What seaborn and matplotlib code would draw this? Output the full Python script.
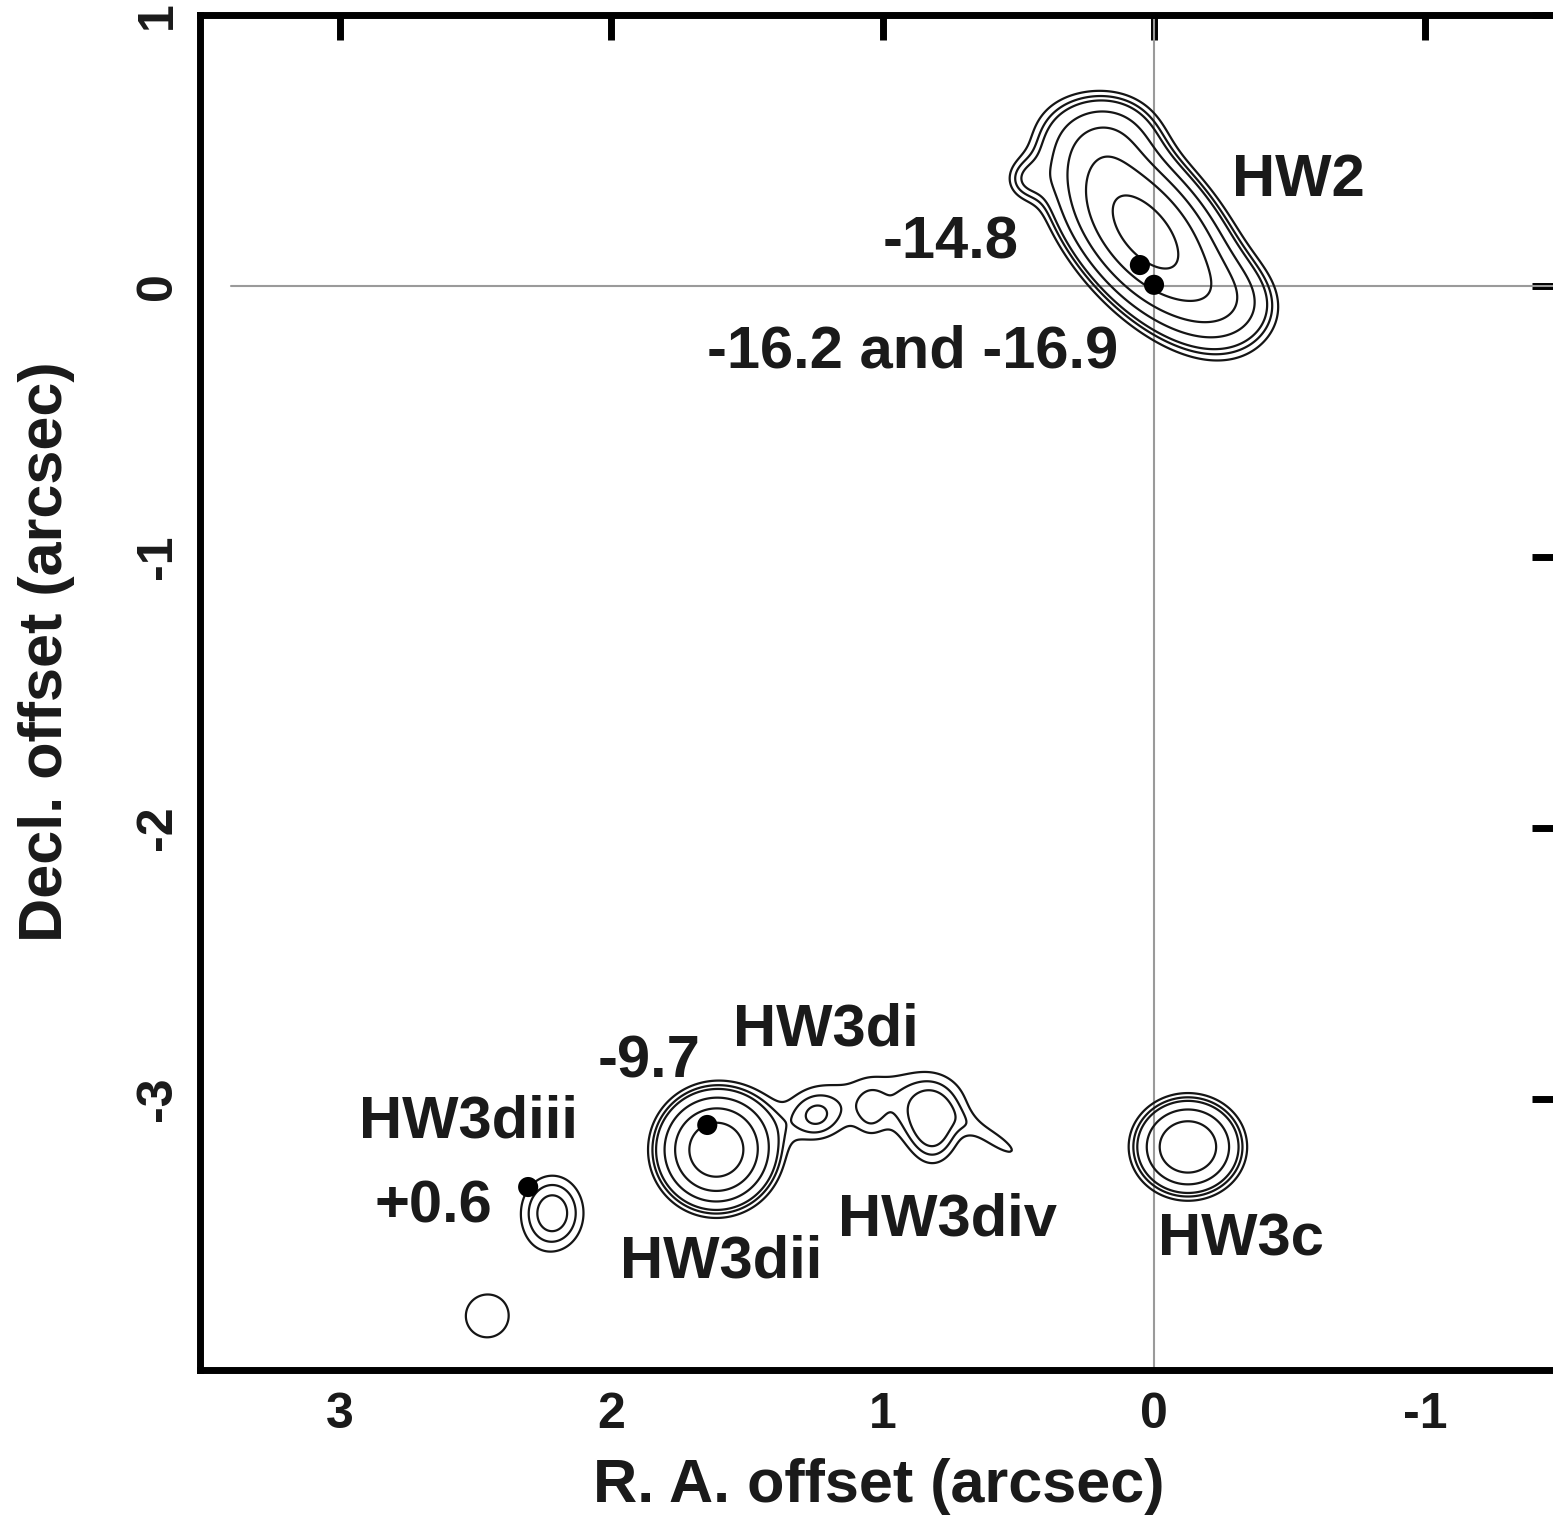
import numpy as np
import pandas as pd
import seaborn as sns
import matplotlib.pyplot as plt

sns.set_theme(style="white")
plt.rcParams['font.family'] = ['Liberation Sans', 'DejaVu Sans']
plt.rcParams['font.weight'] = 'bold'
plt.rcParams['axes.unicode_minus'] = False

# contour levels (arbitrary flux units)
contour_levels = [3, 4, 5, 8, 13, 21, 34]

# emission components (arcsec offsets, RA grows to the left)
comp_name = ['HW2 main', 'HW2 NW', 'HW2 W', 'HW2 SE',
             'HW3dii', 'bridge base', 'neck', 'HW3di oval',
             'HW3div', 'HW3div tail', 'HW3c', 'HW3diii', 'faint knot']
comp_x = [0.033, 0.16, 0.475, -0.28,
          1.613, 0.98, 1.25, 1.045,
          0.815, 0.56, -0.125, 2.217, 2.457]
comp_y = [0.199, 0.56, 0.391, -0.052,
          -3.188, -3.0, -3.07, -3.06,
          -3.115, -3.17, -3.177, -3.421, -3.801]
comp_amp = [42, 7, 3.5, 6,
            30, 3.6, 3.3, 1.4,
            4.5, 2.9, 20, 5.8, 3.6]
comp_sig_a = [0.24, 0.12, 0.06, 0.12,
              0.117, 0.28, 0.07, 0.04,
              0.075, 0.12, 0.112, 0.10, 0.13]
comp_sig_b = [0.125, 0.10, 0.06, 0.10,
              0.117, 0.12, 0.07, 0.07,
              0.115, 0.035, 0.102, 0.12, 0.13]
comp_pa = [50, 0, 0, 20,
           0, 0, 0, 0,
           0, 33, 0, 0, 0]

# maser spots
spot_x = [0.052, 0.0, 1.646, 2.306]
spot_y = [0.077, 0.004, -3.096, -3.325]

# labels
lab_text = ['HW2', '-14.8', '-16.2 and -16.9', 'HW3di', '-9.7', 'HW3diii',
            '+0.6', 'HW3dii', 'HW3div', 'HW3c']
lab_x = [-0.287, 0.50, 0.133, 1.55, 1.67, 2.93, 2.438, 1.967, 1.164, -0.015]
lab_y = [0.39, 0.159, -0.244, -2.745, -2.863, -3.085, -3.40, -3.60, -3.447, -3.52]
lab_ha = ['left', 'right', 'right', 'left', 'right', 'left', 'right', 'left', 'left', 'left']

xs = np.linspace(-1.6, 3.6, 1041)
ys = np.linspace(-4.1, 1.1, 1041)
X, Y = np.meshgrid(xs, ys)
Z = np.zeros_like(X)
for x0, y0, a, sa, sb, pa in zip(comp_x, comp_y, comp_amp, comp_sig_a, comp_sig_b, comp_pa):
    t = np.deg2rad(pa)
    dx, dy = X - x0, Y - y0
    u = dx * np.cos(t) + dy * np.sin(t)
    v = -dx * np.sin(t) + dy * np.cos(t)
    Z += a * np.exp(-0.5 * (u**2 / sa**2 + v**2 / sb**2))

fig = plt.figure(figsize=(15.53, 15.21), dpi=100)
ax = fig.add_axes([0.1288, 0.0993, 0.8738, 0.8909])

ax.axvline(0, color='#9a9a9a', lw=1.5, zorder=1)
ax.plot([3.4, -1.6], [0, 0], color='#9a9a9a', lw=1.5, zorder=1)

ax.contour(X, Y, Z, levels=contour_levels, colors='#151515', linewidths=1.6, zorder=2)

spots = pd.DataFrame({'x': spot_x, 'y': spot_y})
sns.scatterplot(data=spots, x='x', y='y', color='black', s=210, edgecolor='none', ax=ax, zorder=3)

for t, x, y, ha in zip(lab_text, lab_x, lab_y, lab_ha):
    ax.text(x, y, t, ha=ha, va='center', fontsize=43, fontweight='bold', color='#1a1a1a')

ax.set_xlim(3.515, -1.485)
ax.set_ylim(-4, 1)
ax.set_xticks([3, 2, 1, 0, -1])
ax.set_yticks([1, 0, -1, -2, -3])
ax.tick_params(direction='in', length=18, width=5, top=True, right=True,
               labelsize=36, color='black', labelcolor='#1a1a1a')
ax.tick_params(axis='x', pad=16)
ax.tick_params(axis='y', pad=14)
plt.setp(ax.get_yticklabels(), rotation=90, va='center', fontweight='bold')
plt.setp(ax.get_xticklabels(), fontweight='bold')
for s in ax.spines.values():
    s.set_linewidth(5)
    s.set_color('black')

ax.set_xlabel('R. A. offset (arcsec)', fontsize=44, fontweight='bold', color='#1a1a1a')
ax.set_ylabel('Decl. offset (arcsec)', fontsize=44, fontweight='bold', color='#1a1a1a')
ax.xaxis.label.set_va('center')
ax.yaxis.label.set_va('center')
ax.xaxis.set_label_coords(0.5, -0.086)
ax.yaxis.set_label_coords(-0.1135, 0.53)

fig.savefig('out.png', dpi=100)
